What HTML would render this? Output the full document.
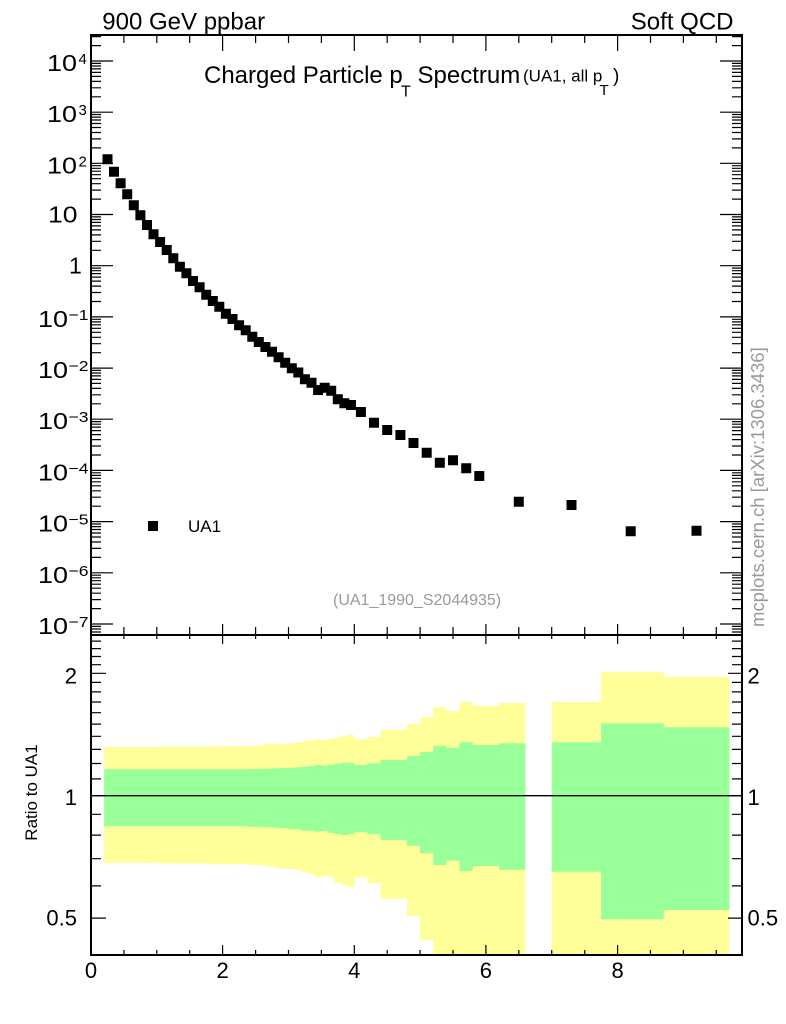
<!DOCTYPE html>
<html>
<head>
<meta charset="utf-8">
<style>
html,body{margin:0;padding:0;background:#fff;}
svg{display:block;}
text{font-family:"Liberation Sans",Arial,sans-serif;}
</style>
</head>
<body>
<svg width="786" height="1024" viewBox="0 0 786 1024" xmlns="http://www.w3.org/2000/svg">
<defs>
<g id="m">
<path d="M91 -15.4h10M91 -24.4h10M91 -30.8h10M91 -35.8h10M91 -39.8h10M91 -43.3h10M91 -46.2h10M91 -48.8h10M732 -15.4h10M732 -24.4h10M732 -30.8h10M732 -35.8h10M732 -39.8h10M732 -43.3h10M732 -46.2h10M732 -48.8h10" stroke="#000" stroke-width="1.2" fill="none"/>
</g>
</defs>
<rect x="0" y="0" width="786" height="1024" fill="#fff"/>

<!-- ratio bands -->
<path fill="#ffff99" d="M104.16,747 H156.82 V746.7 H209.48 V746.3 H248.97 V746 H255.55 V745.3 H262.13 V744.3 H268.71 V744 H275.3 V743.7 H288.46 V743.3 H295.04 V742.3 H301.62 V741.3 H308.21 V740.7 H314.79 V739.3 H321.37 V740 H327.95 V739 H334.53 V737.3 H341.12 V736 H347.7 V735 H354.28 V739.3 H367.44 V737 H380.61 V730 H406.94 V724 H420.1 V717.3 H433.26 V707.3 H446.43 V711 H459.59 V702 H472.76 V706 H499.08 V703 H525.41 V955 H433.26 V939.7 H420.1 V916.3 H406.94 V898.7 H380.61 V883.3 H367.44 V877.7 H354.28 V886.7 H347.7 V885 H341.12 V882.7 H334.53 V877.3 H327.95 V876 H321.37 V877.3 H314.79 V874 H308.21 V872.7 H301.62 V870 H295.04 V869 H281.88 V868.3 H275.3 V866.7 H268.71 V865.7 H262.13 V865 H248.97 V864.3 H209.48 V863.5 H156.82 V862.7 H104.16 Z"/>
<path fill="#99ff99" d="M104.16,769.2 H248.97 V769 H262.13 V768.7 H268.71 V768.5 H275.3 V768.3 H281.88 V768 H288.46 V767.7 H295.04 V767.3 H301.62 V766.7 H308.21 V766 H314.79 V765 H321.37 V765.7 H327.95 V764.7 H334.53 V763.7 H341.12 V762.7 H354.28 V765 H367.44 V763.3 H380.61 V760 H406.94 V756 H420.1 V752 H433.26 V745.7 H446.43 V747.7 H459.59 V742.3 H472.76 V745 H499.08 V743.3 H525.41 V869.7 H499.08 V866 H472.76 V871 H459.59 V860.7 H446.43 V865 H433.26 V853.3 H420.1 V845.7 H406.94 V840 H380.61 V834.3 H367.44 V832.3 H354.28 V834.3 H347.7 V835 H341.12 V834 H334.53 V832.7 H327.95 V831 H321.37 V831.7 H314.79 V830.7 H301.62 V829.3 H288.46 V828.3 H275.3 V827.3 H262.13 V826.7 H248.97 V826.3 H104.16 Z"/>
<path fill="#ffff99" d="M551.74,702 H601.11 V672.3 H663.63 V677 H729.45 V955 H551.74 Z"/>
<path fill="#99ff99" d="M551.74,742.3 H601.11 V723.3 H663.63 V727.3 H729.45 V910 H663.63 V919.3 H601.11 V871.7 H551.74 Z"/>
<line x1="91" y1="795.7" x2="742" y2="795.7" stroke="#000" stroke-width="1.3"/>

<!-- frames -->
<rect x="91" y="35" width="651" height="600" fill="none" stroke="#000" stroke-width="2"/>
<rect x="91" y="635" width="651" height="320" fill="none" stroke="#000" stroke-width="2"/>

<!-- top panel y ticks: majors -->
<path stroke="#000" stroke-width="1.2" fill="none" d="M91 61h22M91 112.2h22M91 163.3h22M91 214.5h22M91 265.7h22M91 316.9h22M91 368.1h22M91 419.2h22M91 470.4h22M91 521.6h22M91 572.8h22M91 624h22M742 61h-22M742 112.2h-22M742 163.3h-22M742 214.5h-22M742 265.7h-22M742 316.9h-22M742 368.1h-22M742 419.2h-22M742 470.4h-22M742 521.6h-22M742 572.8h-22M742 624h-22M91 45.6h10M91 36.6h10M91 626.4h10M91 629h10M91 632h10M742 45.6h-10M742 36.6h-10M742 626.4h-10M742 629h-10M742 632h-10"/>
<use href="#m" transform="translate(0,112.2)"/>
<use href="#m" transform="translate(0,163.3)"/>
<use href="#m" transform="translate(0,214.5)"/>
<use href="#m" transform="translate(0,265.7)"/>
<use href="#m" transform="translate(0,316.9)"/>
<use href="#m" transform="translate(0,368.1)"/>
<use href="#m" transform="translate(0,419.2)"/>
<use href="#m" transform="translate(0,470.4)"/>
<use href="#m" transform="translate(0,521.6)"/>
<use href="#m" transform="translate(0,572.8)"/>
<use href="#m" transform="translate(0,624)"/>

<!-- ratio y ticks -->
<path stroke="#000" stroke-width="1.2" fill="none" d="M91 673.3h15M91 795.7h15M91 918.1h15M742 673.3h-14M742 795.7h-14M742 918.1h-14
M91 885.9h10M91 858.7h10M91 835.1h10M91 814.3h10M91 778.9h10M91 763.5h10M91 749.4h10M91 736.3h10M91 724.1h10M91 712.7h10M91 702h10M91 691.9h10M91 682.4h10M91 664.7h10M91 656.5h10M91 648.6h10M91 641.1h10
M742 885.9h-10M742 858.7h-10M742 835.1h-10M742 814.3h-10M742 778.9h-10M742 763.5h-10M742 749.4h-10M742 736.3h-10M742 724.1h-10M742 712.7h-10M742 702h-10M742 691.9h-10M742 682.4h-10M742 664.7h-10M742 656.5h-10M742 648.6h-10M742 641.1h-10"/>

<!-- x ticks -->
<path stroke="#000" stroke-width="1.2" fill="none" d="
M222.6 35v16M354.3 35v16M485.9 35v16M617.6 35v16
M123.9 35v8M156.8 35v8M189.7 35v8M255.6 35v8M288.5 35v8M321.4 35v8M387.2 35v8M420.1 35v8M453 35v8M518.8 35v8M551.7 35v8M584.7 35v8M650.5 35v8M683.4 35v8M716.3 35v8
M222.6 624V644M354.3 624V644M485.9 624V644M617.6 624V644
M123.9 627V639M156.8 627V639M189.7 627V639M255.6 627V639M288.5 627V639M321.4 627V639M387.2 627V639M420.1 627V639M453 627V639M518.8 627V639M551.7 627V639M584.7 627V639M650.5 627V639M683.4 627V639M716.3 627V639
M222.6 955v-10M354.3 955v-10M485.9 955v-10M617.6 955v-10
M123.9 955v-5M156.8 955v-5M189.7 955v-5M255.6 955v-5M288.5 955v-5M321.4 955v-5M387.2 955v-5M420.1 955v-5M453 955v-5M518.8 955v-5M551.7 955v-5M584.7 955v-5M650.5 955v-5M683.4 955v-5M716.3 955v-5"/>

<!-- data points -->
<path fill="#000" d="M102.5,154.3h10v10h-10zM109,166.7h10v10h-10zM115.6,178.3h10v10h-10zM122.2,189.3h10v10h-10zM128.8,200.3h10v10h-10zM135.4,210.3h10v10h-10zM142,220h10v10h-10zM148.5,229.3h10v10h-10zM155.1,237h10v10h-10zM161.7,245h10v10h-10zM168.3,253.3h10v10h-10zM174.9,261.7h10v10h-10zM181.4,268.3h10v10h-10zM188,276h10v10h-10zM194.6,282.3h10v10h-10zM201.2,289.7h10v10h-10zM207.8,296h10v10h-10zM214.3,301.7h10v10h-10zM220.9,308.7h10v10h-10zM227.5,314h10v10h-10zM234.1,320.3h10v10h-10zM240.7,325.3h10v10h-10zM247.3,331.7h10v10h-10zM253.8,337h10v10h-10zM260.4,342h10v10h-10zM267,346.7h10v10h-10zM273.6,352.3h10v10h-10zM280.2,357.7h10v10h-10zM286.8,363.3h10v10h-10zM293.3,367.5h10v10h-10zM299.9,374.3h10v10h-10zM306.5,377.7h10v10h-10zM313.1,385h10v10h-10zM319.7,382.7h10v10h-10zM326.2,385.7h10v10h-10zM332.8,394.3h10v10h-10zM339.4,398.3h10v10h-10zM346,400h10v10h-10zM355.9,407h10v10h-10zM369,417.7h10v10h-10zM382.2,425h10v10h-10zM395.4,430h10v10h-10zM408.5,438h10v10h-10zM421.7,447.7h10v10h-10zM434.8,457.7h10v10h-10zM448,455.3h10v10h-10zM461.2,463.3h10v10h-10zM474.3,471h10v10h-10zM513.8,496.7h10v10h-10zM566.5,500h10v10h-10zM625.7,526.3h10v10h-10zM691.5,525.7h10v10h-10z"/>

<!-- legend -->
<rect x="148" y="521" width="10" height="10" fill="#000"/>
<text x="188" y="532" font-size="17" fill="#000">UA1</text>

<!-- header texts -->
<text x="102.3" y="29.5" font-size="24" fill="#000">900 GeV ppbar</text>
<text x="733.5" y="29.5" font-size="24" fill="#000" text-anchor="end">Soft QCD</text>
<text x="204" y="83" font-size="24" fill="#000">Charged Particle p</text>
<text x="401" y="96.5" font-size="16" fill="#000">T</text>
<text x="417.5" y="83" font-size="24" fill="#000">Spectrum</text>
<text x="523" y="81.5" font-size="17" fill="#000">(UA1, all p</text>
<text x="599.5" y="95" font-size="15" fill="#000">T</text>
<text x="613" y="82" font-size="19" fill="#000">)</text>

<text x="333" y="605" font-size="16" fill="#999">(UA1_1990_S2044935)</text>
<text transform="translate(764,627) rotate(-90)" x="0" y="0" font-size="18.5" fill="#999">mcplots.cern.ch [arXiv:1306.3436]</text>
<text transform="translate(37,792.5) rotate(-90)" x="0" y="0" font-size="17" fill="#000" text-anchor="middle">Ratio to UA1</text>

<!-- top panel y labels -->
<g font-size="23" fill="#000">
<text x="47" y="71" textLength="30" lengthAdjust="spacingAndGlyphs">10</text>
<text x="47" y="122.2" textLength="30" lengthAdjust="spacingAndGlyphs">10</text>
<text x="47" y="173.3" textLength="30" lengthAdjust="spacingAndGlyphs">10</text>
<text x="48" y="222.5" textLength="29.5" lengthAdjust="spacingAndGlyphs">10</text>
<text x="69" y="273.7">1</text>
<text x="38" y="326.9" textLength="30" lengthAdjust="spacingAndGlyphs">10</text>
<text x="38" y="378.1" textLength="30" lengthAdjust="spacingAndGlyphs">10</text>
<text x="38" y="429.2" textLength="30" lengthAdjust="spacingAndGlyphs">10</text>
<text x="38" y="480.4" textLength="30" lengthAdjust="spacingAndGlyphs">10</text>
<text x="38" y="531.6" textLength="30" lengthAdjust="spacingAndGlyphs">10</text>
<text x="38" y="582.8" textLength="30" lengthAdjust="spacingAndGlyphs">10</text>
<text x="38" y="634" textLength="30" lengthAdjust="spacingAndGlyphs">10</text>
</g>
<g font-size="15" fill="#000">
<text x="78.5" y="64">4</text>
<text x="78.5" y="115.2">3</text>
<text x="78.5" y="166.3">2</text>
<text x="68.5" y="319.9" textLength="20" lengthAdjust="spacingAndGlyphs">−1</text>
<text x="68.5" y="371.1" textLength="20" lengthAdjust="spacingAndGlyphs">−2</text>
<text x="68.5" y="422.2" textLength="20" lengthAdjust="spacingAndGlyphs">−3</text>
<text x="68.5" y="473.4" textLength="20" lengthAdjust="spacingAndGlyphs">−4</text>
<text x="68.5" y="524.6" textLength="20" lengthAdjust="spacingAndGlyphs">−5</text>
<text x="68.5" y="575.8" textLength="20" lengthAdjust="spacingAndGlyphs">−6</text>
<text x="68.5" y="627" textLength="20" lengthAdjust="spacingAndGlyphs">−7</text>
</g>

<!-- ratio y labels -->
<g font-size="22" fill="#000">
<text x="77" y="683.3" text-anchor="end">2</text>
<text x="77" y="805" text-anchor="end">1</text>
<text x="77" y="925.5" text-anchor="end">0.5</text>
<text x="747.5" y="683.3">2</text>
<text x="747.5" y="805">1</text>
<text x="747.5" y="925.5">0.5</text>
</g>

<!-- x labels -->
<g font-size="22" fill="#000" text-anchor="middle">
<text x="91" y="978">0</text>
<text x="222.6" y="978">2</text>
<text x="354.3" y="978">4</text>
<text x="485.9" y="978">6</text>
<text x="617.6" y="978">8</text>
</g>
</svg>
</body>
</html>
